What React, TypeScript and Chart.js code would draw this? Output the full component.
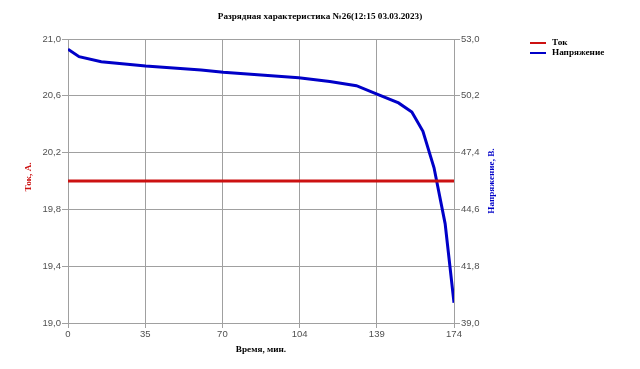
import React, { useEffect, useRef } from "react";
import { Chart, registerables } from "chart.js";

Chart.register(...registerables);

const chartTitle = "Разрядная характеристика №26(12:15 03.03.2023)";
const xAxisTitle = "Время, мин.";
const leftAxisTitle = "Ток, А.";
const rightAxisTitle = "Напряжение, В.";
const seriesNames = ["Ток", "Напряжение"];

const voltageTime = [0, 5, 15, 35, 60, 70, 104, 118, 130, 139, 149, 155, 160, 165, 170, 174];
const voltageValues = [52.5, 52.13, 51.88, 51.67, 51.47, 51.36, 51.09, 50.9, 50.7, 50.3, 49.85, 49.4, 48.45, 46.65, 43.9, 40.0];

const currentTime = [0, 174];
const currentValues = [20.0, 20.0];

const xTickValues = [0, 34.8, 69.6, 104.4, 139.2, 174];
const xTickLabels = ["0", "35", "70", "104", "139", "174"];
const leftTickValues = [19.0, 19.4, 19.8, 20.2, 20.6, 21.0];
const rightTickValues = [39.0, 41.8, 44.6, 47.4, 50.2, 53.0];

const RED = "#cc1111";
const BLUE = "#0000c8";
const GRID = "#a0a0a0";
const TICK_COLOR = "#505050";
const SERIF = "'Liberation Serif', 'Times New Roman', serif";
const SANS = "'Liberation Sans', Arial, sans-serif";
const LABEL_FONT = `bold 9.2px ${SERIF}`;

const fmt = (v: number) => v.toFixed(1).replace(".", ",");

const textPlugin = {
  id: "textPlugin",
  afterDraw(chart: any) {
    const ctx = chart.ctx;
    const area = chart.chartArea;
    ctx.save();
    ctx.fillStyle = "#000";
    ctx.font = LABEL_FONT;
    ctx.textAlign = "center";
    ctx.textBaseline = "middle";
    ctx.fillText(chartTitle, 320, 17);
    ctx.fillText(xAxisTitle, (area.left + area.right) / 2, 350);
    ctx.save();
    ctx.translate(29, 177);
    ctx.rotate(-Math.PI / 2);
    ctx.fillStyle = RED;
    ctx.fillText(leftAxisTitle, 0, 0);
    ctx.restore();
    ctx.save();
    ctx.translate(492, 181);
    ctx.rotate(-Math.PI / 2);
    ctx.fillStyle = BLUE;
    ctx.fillText(rightAxisTitle, 0, 0);
    ctx.restore();
    const colors = [RED, BLUE];
    const ys = [43, 53];
    ctx.textAlign = "left";
    for (let i = 0; i < 2; i++) {
      ctx.strokeStyle = colors[i];
      ctx.lineWidth = 2;
      ctx.beginPath();
      ctx.moveTo(530, ys[i]);
      ctx.lineTo(546, ys[i]);
      ctx.stroke();
      ctx.fillStyle = "#000";
      ctx.fillText(seriesNames[i], 552, ys[i]);
    }
    ctx.restore();
  },
};

export default function App() {
  const ref = useRef<HTMLCanvasElement | null>(null);
  useEffect(() => {
    if (!ref.current) return;
    const tickFont = { family: SANS, size: 9.5 };
    const chart = new Chart(ref.current, {
      type: "line",
      data: {
        datasets: [
          {
            label: seriesNames[0],
            data: currentTime.map((t, i) => ({ x: t, y: currentValues[i] })),
            borderColor: RED,
            backgroundColor: RED,
            borderWidth: 3,
            pointRadius: 0,
            yAxisID: "y",
            tension: 0,
          },
          {
            label: seriesNames[1],
            data: voltageTime.map((t, i) => ({ x: t, y: voltageValues[i] })),
            borderColor: BLUE,
            backgroundColor: BLUE,
            borderWidth: 3,
            pointRadius: 0,
            yAxisID: "y1",
            tension: 0,
          },
        ],
      },
      options: {
        responsive: false,
        animation: false,
        devicePixelRatio: 1,
        layout: { padding: { left: 0, right: 140, top: 39, bottom: 0 } },
        plugins: { legend: { display: false }, title: { display: false }, tooltip: { enabled: false } },
        scales: {
          x: {
            type: "linear",
            min: 0,
            max: 174,
            afterBuildTicks: (s: any) => {
              s.ticks = xTickValues.map((v) => ({ value: v }));
            },
            afterFit: (s: any) => {
              s.height = 46;
            },
            grid: { color: GRID, tickLength: 5, lineWidth: 1 },
            border: { color: GRID },
            ticks: {
              color: TICK_COLOR,
              font: tickFont,
              padding: 1,
              maxRotation: 0,
              autoSkip: false,
              callback: (v: any, i: number) => xTickLabels[i],
            },
          },
          y: {
            type: "linear",
            position: "left",
            min: 19,
            max: 21,
            afterBuildTicks: (s: any) => {
              s.ticks = leftTickValues.map((v) => ({ value: v }));
            },
            afterFit: (s: any) => {
              s.width = 68;
            },
            grid: { color: GRID, tickLength: 6 },
            border: { color: GRID },
            ticks: {
              color: TICK_COLOR,
              font: tickFont,
              padding: 1,
              autoSkip: false,
              callback: (v: any) => fmt(Number(v)),
            },
          },
          y1: {
            type: "linear",
            position: "right",
            min: 39,
            max: 53,
            afterBuildTicks: (s: any) => {
              s.ticks = rightTickValues.map((v) => ({ value: v }));
            },
            afterFit: (s: any) => {
              s.width = 46;
            },
            grid: { color: GRID, tickLength: 6, drawOnChartArea: false },
            border: { color: GRID },
            ticks: {
              color: TICK_COLOR,
              font: tickFont,
              padding: 1,
              autoSkip: false,
              callback: (v: any) => fmt(Number(v)),
            },
          },
        },
      },
      plugins: [textPlugin],
    } as any);
    return () => chart.destroy();
  }, []);
  return (
    <div style={{ position: "fixed", left: 0, top: 0, width: 640, height: 369, background: "#fff" }}>
      <canvas ref={ref} width={640} height={369} style={{ display: "block" }} />
    </div>
  );
}
